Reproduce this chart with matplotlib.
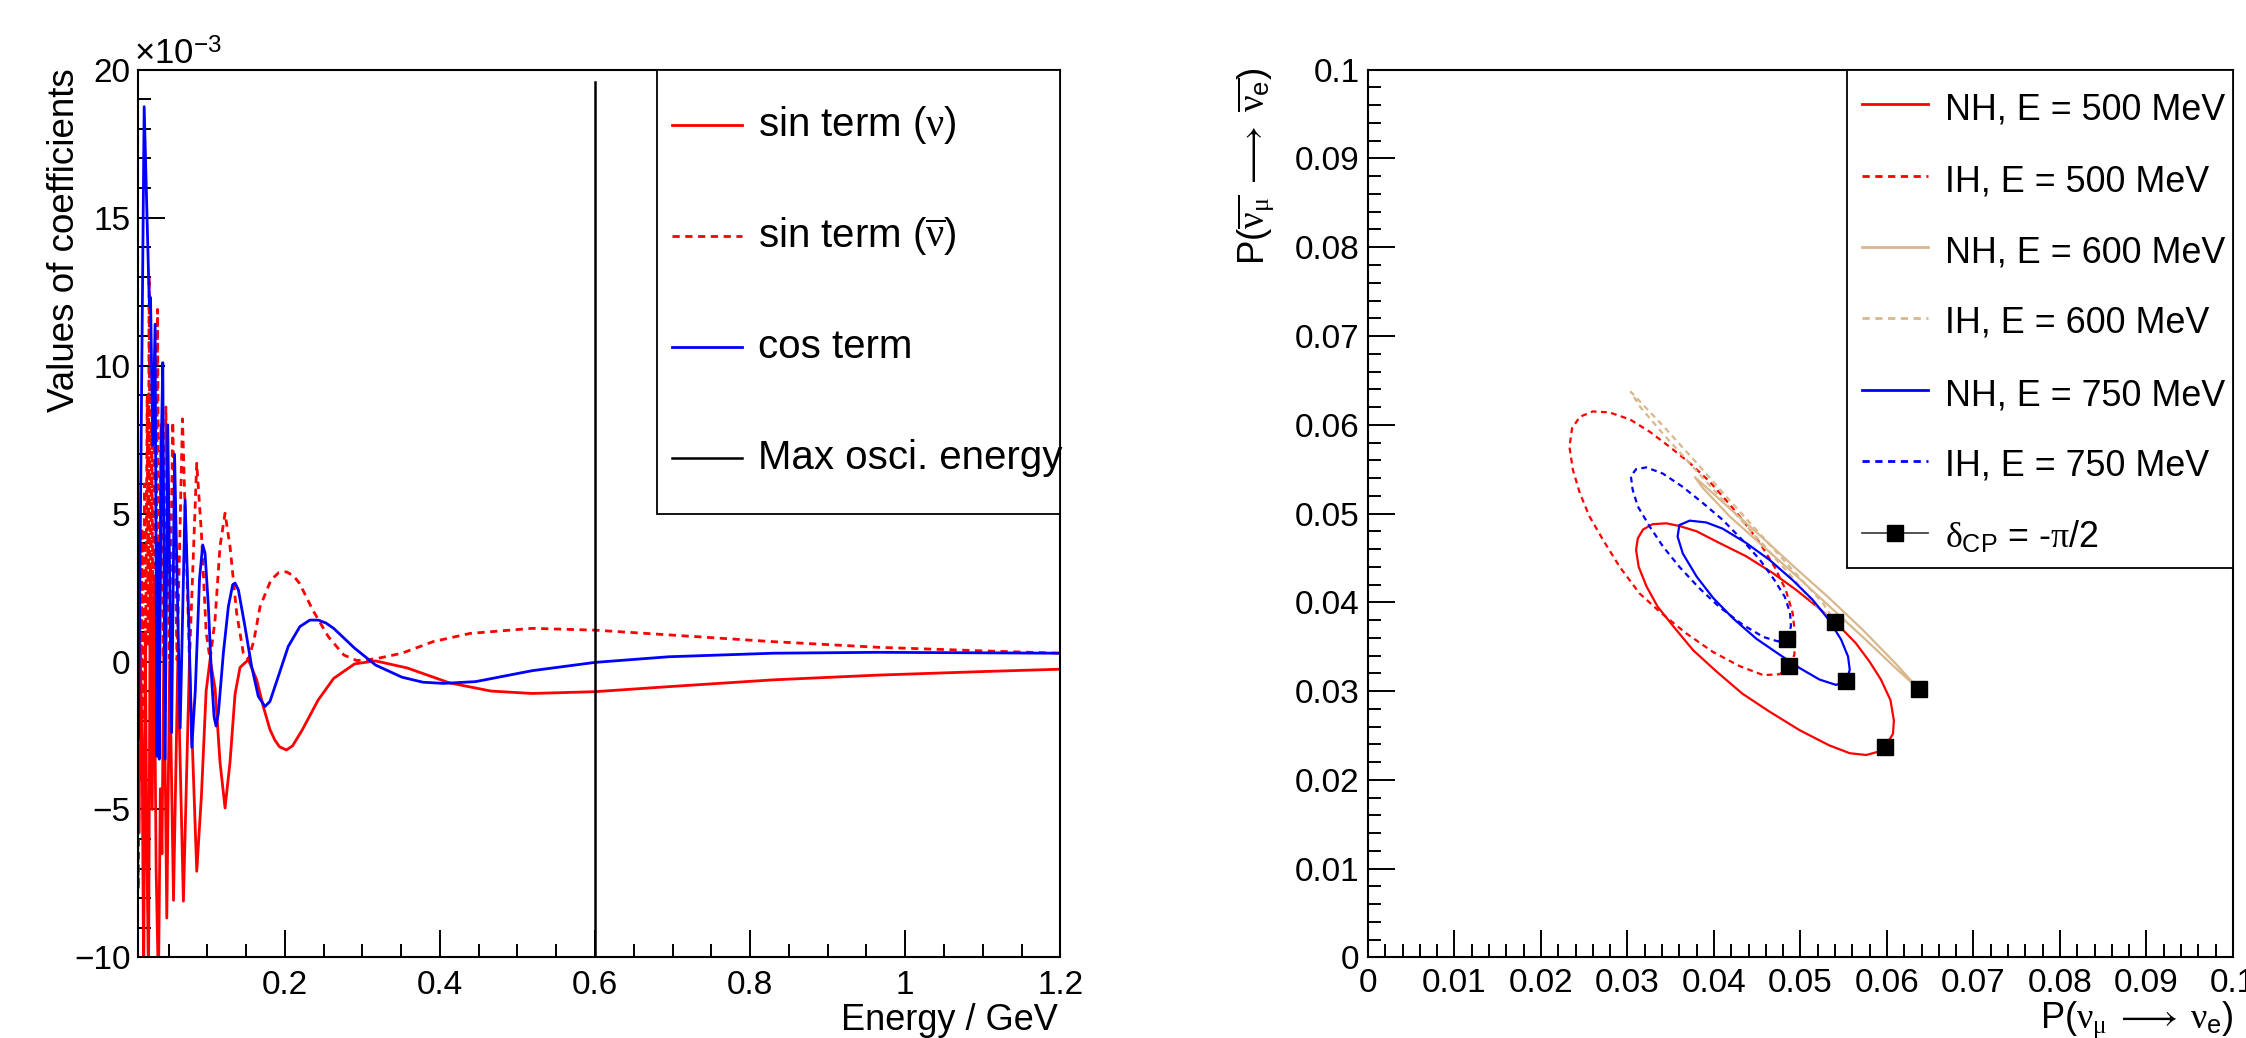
import matplotlib.pyplot as plt
from matplotlib.lines import Line2D
from matplotlib.patches import Rectangle
from matplotlib.ticker import MultipleLocator, FuncFormatter

plt.rcParams['font.family'] = ['Liberation Sans', 'DejaVu Sans']
plt.rcParams['mathtext.fontset'] = 'custom'
plt.rcParams['mathtext.rm'] = 'Liberation Serif'
plt.rcParams['mathtext.it'] = 'Liberation Serif'
plt.rcParams['mathtext.sf'] = 'Liberation Sans'

# ---- left: coefficients vs energy (values in units of 1e-3) ----
sin_nu_E = [0.0100, 0.0118, 0.0135, 0.0160, 0.0180, 0.0200, 0.0220, 0.0242, 0.0265, 0.0290,
            0.0310, 0.0340, 0.0370, 0.0395, 0.0415, 0.0440, 0.0478, 0.0515, 0.0564, 0.0620,
            0.0692, 0.0770, 0.0864, 0.0925, 0.0985, 0.1036, 0.1100, 0.1164, 0.1229, 0.1293,
            0.1358, 0.1422, 0.1529, 0.1637, 0.1722, 0.1808, 0.1870, 0.1930, 0.2020, 0.2100,
            0.2225, 0.2430, 0.2630, 0.2900, 0.3170, 0.3580, 0.4120, 0.4660, 0.5190, 0.6000,
            0.6950, 0.8300, 0.9650, 1.1000, 1.2000]
sin_nu_v = [7.8, -5.8, 0.5, -3.0, -11.0, 1.0, -6.0, -11.0, 3.3, -5.0,
            2.8, -7.0, -11.0, -4.3, -6.5, 0.5, -8.67, 0.0, -8.07, 0.0,
            -8.1, 0.0, -7.09, -4.5, -1.0, 0.06, -0.9, -3.4, -4.95, -3.4,
            -1.1, -0.2, 0.06, -0.62, -1.52, -2.30, -2.65, -2.88, -2.99, -2.85,
            -2.31, -1.30, -0.57, -0.08, 0.02, -0.22, -0.72, -1.00, -1.08, -1.02,
            -0.85, -0.62, -0.46, -0.34, -0.26]

sin_nubar_E = [0.0100, 0.0112, 0.0128, 0.0142, 0.0158, 0.0172, 0.0190, 0.0205, 0.0225, 0.0238,
               0.0250, 0.0265, 0.0285, 0.0300, 0.0320, 0.0338, 0.0358, 0.0380, 0.0404, 0.0432,
               0.0466, 0.0510, 0.0555, 0.0610, 0.0680, 0.0770, 0.0864, 0.0925, 0.0985, 0.1036,
               0.1100, 0.1164, 0.1229, 0.1293, 0.1379, 0.1465, 0.1529, 0.1600, 0.1680, 0.1820,
               0.1920, 0.2020, 0.2110, 0.2190, 0.2360, 0.2560, 0.2760, 0.2930, 0.3170, 0.3510,
               0.3910, 0.4390, 0.5190, 0.6000, 0.6950, 0.8300, 0.9650, 1.1000, 1.2000]
sin_nubar_v = [-5.7, -7.7, 2.0, -4.0, 4.5, -2.0, 6.0, 0.0, 9.0, 0.5,
               13.0, 1.0, 8.0, 0.3, 9.5, 0.2, 11.9, 0.2, 8.0, 0.1,
               8.6, 0.1, 8.1, 0.05, 8.2, 0.05, 6.7, 4.3, 1.0, 0.06,
               1.41, 3.89, 5.01, 3.89, 1.63, 0.28, 0.06, 0.70, 1.85, 2.75,
               3.00, 3.03, 2.90, 2.64, 1.74, 0.84, 0.22, 0.03, 0.09, 0.28,
               0.67, 0.95, 1.12, 1.06, 0.90, 0.67, 0.48, 0.36, 0.28]

cos_E = [0.0100, 0.0112, 0.0186, 0.0242, 0.0256, 0.0268, 0.0297, 0.0327, 0.0350, 0.0365,
         0.0380, 0.0405, 0.0426, 0.0456, 0.0490, 0.0540, 0.0578, 0.0650, 0.0714, 0.0765,
         0.0800, 0.0845, 0.0900, 0.0941, 0.0971, 0.1014, 0.1057, 0.1087, 0.1113, 0.1143,
         0.1207, 0.1272, 0.1327, 0.1358, 0.1401, 0.1486, 0.1572, 0.1658, 0.1744, 0.1808,
         0.1915, 0.2044, 0.2194, 0.2323, 0.2431, 0.2530, 0.2630, 0.2900, 0.3170, 0.3510,
         0.3780, 0.4050, 0.4460, 0.5190, 0.6000, 0.6950, 0.8300, 0.9650, 1.2000]
cos_v = [-1.9, -2.6, 18.75, 13.1, 12.0, 12.3, 7.3, 11.4, -3.2, 4.0,
         -3.3, 7.0, 10.1, -3.3, 8.0, -2.4, 7.0, -2.25, 5.46, 1.0,
         -2.9, -1.0, 2.8, 3.94, 3.66, 1.86, -0.62, -1.86, -2.18, -1.74,
         0.28, 1.86, 2.59, 2.65, 2.42, 1.18, -0.17, -1.18, -1.52, -1.35,
         -0.51, 0.51, 1.18, 1.40, 1.40, 1.30, 1.12, 0.45, -0.12, -0.53,
         -0.70, -0.74, -0.68, -0.31, -0.03, 0.16, 0.28, 0.31, 0.28]

max_osc_E = 0.6
max_osc_top = 19.6

# ---- right: bi-probability ellipses ----
nh500_x = [0.0598, 0.0607, 0.0608, 0.0604, 0.0593, 0.0580, 0.0564, 0.0545, 0.0522, 0.0495,
           0.0468, 0.0437, 0.0406, 0.0380, 0.0360, 0.0345, 0.0329, 0.0318, 0.0312, 0.0310,
           0.0313, 0.0322, 0.0335, 0.0353, 0.0376, 0.0403, 0.0433, 0.0464, 0.0499, 0.0533,
           0.0557, 0.0576, 0.0591, 0.0598]
nh500_y = [0.0237, 0.0252, 0.0267, 0.0290, 0.0313, 0.0333, 0.0354, 0.0373, 0.0393, 0.0414,
           0.0433, 0.0452, 0.0467, 0.0480, 0.0486, 0.0489, 0.0488, 0.0482, 0.0472, 0.0459,
           0.0440, 0.0418, 0.0395, 0.0373, 0.0346, 0.0322, 0.0297, 0.0277, 0.0256, 0.0239,
           0.0230, 0.0228, 0.0232, 0.0237]

ih500_x = [0.0487, 0.0493, 0.0494, 0.0491, 0.0483, 0.0470, 0.0453, 0.0433, 0.0414, 0.0395,
           0.0372, 0.0349, 0.0326, 0.0303, 0.0279, 0.0260, 0.0245, 0.0236, 0.0233, 0.0237,
           0.0245, 0.0256, 0.0272, 0.0291, 0.0314, 0.0339, 0.0368, 0.0399, 0.0430, 0.0457,
           0.0476, 0.0487]
ih500_y = [0.0328, 0.0341, 0.0361, 0.0388, 0.0414, 0.0440, 0.0467, 0.0493, 0.0515, 0.0536,
           0.0557, 0.0575, 0.0592, 0.0606, 0.0614, 0.0615, 0.0609, 0.0596, 0.0575, 0.0549,
           0.0523, 0.0497, 0.0470, 0.0440, 0.0410, 0.0388, 0.0365, 0.0344, 0.0328, 0.0318,
           0.0319, 0.0328]

nh600_x = [0.0637, 0.0610, 0.0572, 0.0533, 0.0495, 0.0457, 0.0418, 0.0387, 0.0378, 0.0418,
           0.0457, 0.0495, 0.0533, 0.0572, 0.0610, 0.0637]
nh600_y = [0.0302, 0.0326, 0.0361, 0.0396, 0.0430, 0.0463, 0.0497, 0.0529, 0.0541, 0.0506,
           0.0472, 0.0438, 0.0405, 0.0369, 0.0331, 0.0302]

ih600_x = [0.0540, 0.0522, 0.0495, 0.0457, 0.0418, 0.0380, 0.0341, 0.0314, 0.0304, 0.0341,
           0.0380, 0.0418, 0.0457, 0.0495, 0.0526, 0.0540]
ih600_y = [0.0378, 0.0392, 0.0423, 0.0465, 0.0507, 0.0548, 0.0590, 0.0621, 0.0637, 0.0599,
           0.0557, 0.0515, 0.0473, 0.0432, 0.0399, 0.0378]

nh750_x = [0.0553, 0.0557, 0.0555, 0.0547, 0.0533, 0.0514, 0.0491, 0.0464, 0.0437, 0.0410,
           0.0391, 0.0372, 0.0360, 0.0358, 0.0364, 0.0380, 0.0399, 0.0422, 0.0449, 0.0476,
           0.0499, 0.0522, 0.0541, 0.0553]
nh750_y = [0.0311, 0.0324, 0.0339, 0.0358, 0.0380, 0.0403, 0.0425, 0.0448, 0.0467, 0.0483,
           0.0490, 0.0492, 0.0487, 0.0474, 0.0455, 0.0429, 0.0405, 0.0382, 0.0359, 0.0341,
           0.0326, 0.0313, 0.0307, 0.0311]

ih750_x = [0.0485, 0.0489, 0.0488, 0.0482, 0.0470, 0.0453, 0.0433, 0.0410, 0.0387, 0.0364,
           0.0341, 0.0322, 0.0310, 0.0304, 0.0306, 0.0312, 0.0326, 0.0341, 0.0360, 0.0383,
           0.0406, 0.0433, 0.0457, 0.0474, 0.0485]
ih750_y = [0.0359, 0.0373, 0.0388, 0.0406, 0.0425, 0.0448, 0.0470, 0.0493, 0.0512, 0.0530,
           0.0545, 0.0552, 0.0550, 0.0542, 0.0527, 0.0508, 0.0485, 0.0463, 0.0440, 0.0416,
           0.0395, 0.0375, 0.0361, 0.0356, 0.0359]

# points at delta_CP = -pi/2, one per curve
dcp_x = [0.0598, 0.0487, 0.0637, 0.0540, 0.0553, 0.0485]
dcp_y = [0.0237, 0.0328, 0.0302, 0.0378, 0.0311, 0.0359]

W, H = 2246, 1038
fig = plt.figure(figsize=(W / 100, H / 100), dpi=100)


def fx(px):
    return px / W


def fy(py):
    return 1 - py / H


def box(x0, y0, x1, y1):
    return [fx(x0), fy(y1), (x1 - x0) / W, (y1 - y0) / H]


ax1 = fig.add_axes(box(137.5, 69.7, 1060.3, 957.4))
ax2 = fig.add_axes(box(1367.9, 69.7, 2233.0, 957.4))

red, blue, tan = '#ff0000', '#0000ff', '#d8b88c'
dash = (0, (2.6, 2.0))


def gfmt(v, pos):
    return ('%g' % round(v, 6)).replace('-', '\u2212')


for ax in (ax1, ax2):
    for s in ax.spines.values():
        s.set_linewidth(1.5)
    ax.tick_params(which='both', direction='in', top=False, right=False, width=1.4, labelsize=24)
    ax.tick_params(which='major', length=19.5)
    ax.tick_params(which='minor', length=9.5)
    ax.xaxis.set_major_formatter(FuncFormatter(gfmt))
    ax.yaxis.set_major_formatter(FuncFormatter(gfmt))

# left panel
ax1.plot(sin_nu_E, sin_nu_v, color=red, lw=2.0)
ax1.plot(sin_nubar_E, sin_nubar_v, color=red, lw=2.0, ls=dash)
ax1.plot(cos_E, cos_v, color=blue, lw=2.0)
ax1.plot([max_osc_E, max_osc_E], [-10, max_osc_top], color='black', lw=1.8)
ax1.set_xlim(0.01, 1.2)
ax1.set_ylim(-10, 20)
ax1.xaxis.set_major_locator(MultipleLocator(0.2))
ax1.xaxis.set_minor_locator(MultipleLocator(0.05))
ax1.yaxis.set_major_locator(MultipleLocator(5))
ax1.yaxis.set_minor_locator(MultipleLocator(1))
ax1.tick_params(axis='x', pad=9)
ax1.tick_params(axis='y', pad=5)

# right panel
ax2.plot(nh500_x, nh500_y, color=red, lw=1.6)
ax2.plot(ih500_x, ih500_y, color=red, lw=1.6, ls=dash)
ax2.plot(nh600_x, nh600_y, color=tan, lw=1.6)
ax2.plot(ih600_x, ih600_y, color=tan, lw=1.6, ls=dash)
ax2.plot(nh750_x, nh750_y, color=blue, lw=1.6)
ax2.plot(ih750_x, ih750_y, color=blue, lw=1.6, ls=dash)
ax2.plot(dcp_x, dcp_y, ls='none', marker='s', ms=11, color='black', zorder=5)
ax2.set_xlim(0, 0.1)
ax2.set_ylim(0, 0.1)
ax2.xaxis.set_major_locator(MultipleLocator(0.01))
ax2.xaxis.set_minor_locator(MultipleLocator(0.002))
ax2.yaxis.set_major_locator(MultipleLocator(0.01))
ax2.yaxis.set_minor_locator(MultipleLocator(0.002))
ax2.tick_params(axis='x', pad=7.5)
ax2.tick_params(axis='y', pad=6)

# axis titles
fig.text(fx(1058), fy(1030), 'Energy / GeV', ha='right', va='baseline', fontsize=26)
fig.text(fx(74), fy(68), 'Values of coefficients', rotation=90, rotation_mode='anchor',
         ha='right', va='baseline', fontsize=26.5)
fig.text(fx(134), fy(65), '\u00d710$^{\\mathsf{-3}}$', ha='left', va='baseline', fontsize=25)
fig.text(fx(2234), fy(1028), r'P($\nu_{\mu}\;\longrightarrow\;\nu_{\mathsf{e}}$)',
         ha='right', va='baseline', fontsize=26)
fig.text(fx(1264), fy(68),
         r'P($\overline{\nu_{\mu}}\;\longrightarrow\;\overline{\nu_{\mathsf{e}}}$)',
         rotation=90, rotation_mode='anchor', ha='right', va='baseline', fontsize=26.5)


def legend_box(x0, y0, x1, y1, rows, lx0, lx1, tx, size, off):
    fig.add_artist(Rectangle((fx(x0), fy(y1)), (x1 - x0) / W, (y1 - y0) / H,
                             transform=fig.transFigure, fill=True, facecolor='white',
                             edgecolor='black', lw=1.3, zorder=10))
    for ry, (label, kw) in rows:
        lx = [fx(lx0), fx((lx0 + lx1) / 2), fx(lx1)]
        fig.add_artist(Line2D(lx, [fy(ry)] * 3, transform=fig.transFigure, zorder=11, **kw))
        fig.text(fx(tx), fy(ry + off), label, ha='left', va='baseline', fontsize=size, zorder=11)


legend_box(656.7, 69.7, 1060.3, 513.9,
           [(125, ('sin term ($\\nu$)', dict(color=red, lw=2.0))),
            (235.6, ('sin term ($\\overline{\\nu}$)', dict(color=red, lw=2.0, ls=dash))),
            (347, ('cos term', dict(color=blue, lw=2.0))),
            (458, ('Max osci. energy', dict(color='black', lw=1.8)))],
           671.7, 742.3, 757.7, 29, 11)

legend_box(1846.7, 69.7, 2233.0, 568.3,
           [(104, ('NH, E = 500 MeV', dict(color=red, lw=2.0))),
            (176, ('IH, E = 500 MeV', dict(color=red, lw=2.0, ls=dash))),
            (247, ('NH, E = 600 MeV', dict(color=tan, lw=2.0))),
            (318, ('IH, E = 600 MeV', dict(color=tan, lw=2.0, ls=dash))),
            (390, ('NH, E = 750 MeV', dict(color=blue, lw=2.0))),
            (461, ('IH, E = 750 MeV', dict(color=blue, lw=2.0, ls=dash))),
            (533, (r'$\delta_{\mathsf{CP}}$ = -$\pi$/2',
                   dict(color='#333333', lw=1.2, marker='s', ms=11, markevery=[1],
                        markerfacecolor='black', markeredgecolor='black')))],
           1861.7, 1928.3, 1945, 25.8, 15)

fig.savefig('out.png', dpi=100)
